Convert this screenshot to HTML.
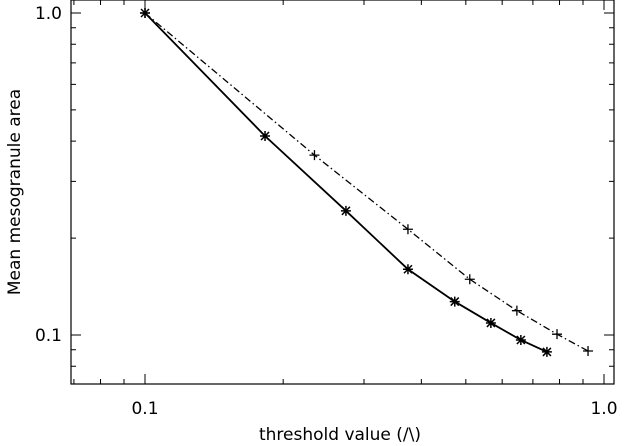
<!DOCTYPE html>
<html><head><meta charset="utf-8"><style>
body{margin:0;background:#fff}
svg{display:block;font-family:"DejaVu Sans","Liberation Sans",sans-serif}
</style></head><body>
<svg id="chart" width="628" height="446" xmlns="http://www.w3.org/2000/svg">
<g id="g"></g>
<text x="340" y="440" font-size="17" text-anchor="middle">threshold value (/\)</text>
<text transform="translate(20,192) rotate(-90)" font-size="17" text-anchor="middle">Mean mesogranule area</text>
</svg>
<script>
const solidX=[0.1,0.1826,0.274,0.374,0.473,0.567,0.659,0.751];
const solidY=[1.0,0.415,0.243,0.160,0.127,0.109,0.0965,0.0886];
const dashX=[0.1,0.234,0.374,0.510,0.646,0.790,0.923];
const dashY=[1.0,0.362,0.213,0.149,0.119,0.1006,0.0892];
const xTicks=[0.1,1.0];
const xTickLabels=["0.1","1.0"];
const yTicks=[0.1,1.0];
const yTickLabels=["0.1","1.0"];
const L=71,R=614,T=0,B=384;
const xs=v=>145+459*(Math.log10(v)+1);
const ys=v=>13-322*Math.log10(v);
const NS="http://www.w3.org/2000/svg";
const g=document.getElementById('g');
function mk(t,a){const e=document.createElementNS(NS,t);for(const k in a)e.setAttribute(k,a[k]);g.appendChild(e);return e;}
let f=mk('rect',{x:L,y:T,width:R-L,height:B-T,fill:'none',stroke:'#000','stroke-width':1.2});


// x ticks
for(let d=-2;d<=0;d++)for(let m=1;m<=9;m++){const v=m*Math.pow(10,d);const x=xs(v);if(x<L||x>R)continue;const len=m===1?10:5;
 let t=mk('path',{d:`M${x},${B}v${-len}M${x},${T}v${len}`,stroke:'#000','stroke-width':1});
 
 }
for(let d=-2;d<=0;d++)for(let m=1;m<=9;m++){const v=m*Math.pow(10,d);const y=ys(v);if(y<T||y>B)continue;const len=m===1?10:5;
 let t=mk('path',{d:`M${L},${y}h${len}M${R},${y}h${-len}`,stroke:'#000','stroke-width':1});
 
 }
xTicks.forEach((v,i)=>{let t=mk('text',{x:xs(v),y:414,'font-size':17,'text-anchor':'middle'});t.textContent=xTickLabels[i];
 
 });
yTicks.forEach((v,i)=>{let t=mk('text',{x:62,y:ys(v)+6,'font-size':17,'text-anchor':'end'});t.textContent=yTickLabels[i];
 
 });
let dl=mk('polyline',{points:dashX.map((v,i)=>xs(v)+','+ys(dashY[i])).join(' '),fill:'none',stroke:'#000','stroke-width':1.3,'stroke-dasharray':'7,3,1.5,3'});


let sl=mk('polyline',{points:solidX.map((v,i)=>xs(v)+','+ys(solidY[i])).join(' '),fill:'none',stroke:'#000','stroke-width':1.8});


dashX.forEach((v,i)=>{const x=xs(v),y=ys(dashY[i]);let p=mk('path',{d:`M${x-5},${y}h10M${x},${y-5}v10`,stroke:'#000','stroke-width':1.3});
 
 });
solidX.forEach((v,i)=>{const x=xs(v),y=ys(solidY[i]);let p=mk('path',{d:`M${x-5},${y}h10M${x},${y-5}v10M${x-4},${y-4}l8,8M${x-4},${y+4}l8,-8`,stroke:'#000','stroke-width':1.5});
 
 });
</script>
</body></html>
